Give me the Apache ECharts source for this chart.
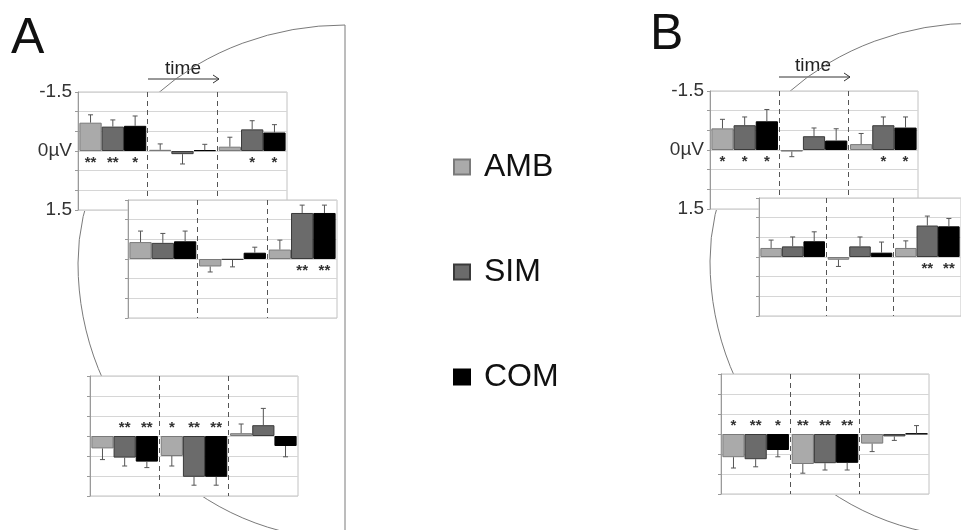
<!DOCTYPE html>
<html><head><meta charset="utf-8">
<script src="https://cdn.jsdelivr.net/npm/echarts@6/dist/echarts.min.js"></script>
<style>html,body{margin:0;padding:0;background:#fff}#c{width:961px;height:530px}</style>
</head><body><div id="c"></div>
<script>
// ---------- DATA ----------
const conditions = ['AMB', 'SIM', 'COM'];
const timeWindows = ['early', 'middle', 'late'];
const windowBounds = [1, 2];
const yLabelValues = [-1.5, 0, 1.5];
const yLabelTexts = ['-1.5', '0µV', '1.5'];

// Panel A — top (rows: AMB, SIM, COM; columns: time windows)
const aTopVals = [[-0.72, -0.03, -0.11], [-0.62, 0.08, -0.55], [-0.64, -0.02, -0.47]];
const aTopErr  = [[0.20, 0.15, 0.24], [0.17, 0.25, 0.22], [0.25, 0.15, 0.20]];
const aTopSig  = [['**', '', ''], ['**', '', '*'], ['*', '', '*']];
// Panel A — middle
const aMidVals = [[-0.43, 0.19, -0.24], [-0.41, 0.02, -1.17], [-0.45, -0.16, -1.17]];
const aMidErr  = [[0.28, 0.14, 0.24], [0.24, 0.18, 0.20], [0.26, 0.14, 0.20]];
const aMidSig  = [['', '', ''], ['', '', '**'], ['', '', '**']];
// Panel A — bottom
const aBotVals = [[0.31, 0.50, -0.07], [0.54, 1.02, -0.27], [0.64, 1.02, 0.25]];
const aBotErr  = [[0.28, 0.25, 0.23], [0.21, 0.21, 0.42], [0.15, 0.21, 0.27]];
const aBotSig  = [['', '*', ''], ['**', '**', ''], ['**', '**', '']];
// Panel B — top
const bTopVals = [[-0.55, 0.04, -0.15], [-0.63, -0.35, -0.63], [-0.73, -0.24, -0.57]];
const bTopErr  = [[0.23, 0.13, 0.27], [0.21, 0.21, 0.21], [0.30, 0.30, 0.27]];
const bTopSig  = [['*', '', ''], ['*', '', '*'], ['*', '', '*']];
// Panel B — middle
const bMidVals = [[-0.23, 0.07, -0.23], [-0.27, -0.27, -0.80], [-0.40, -0.11, -0.78]];
const bMidErr  = [[0.20, 0.17, 0.18], [0.24, 0.24, 0.24], [0.24, 0.27, 0.20]];
const bMidSig  = [['', '', ''], ['', '', '**'], ['', '', '**']];
// Panel B — bottom
const bBotVals = [[0.58, 0.75, 0.24], [0.63, 0.73, 0.06], [0.40, 0.72, -0.01]];
const bBotErr  = [[0.27, 0.23, 0.20], [0.19, 0.17, 0.10], [0.17, 0.18, 0.20]];
const bBotSig  = [['*', '**', ''], ['**', '**', ''], ['*', '**', '']];

// ---------- LAYOUT / STYLE ----------
const FONT = '"Liberation Sans", Arial, sans-serif';
const colors = ['#aaaaaa', '#6b6b6b', '#000000'];
const borders = ['#7a7a7a', '#3a3a3a', '#000000'];
const GAP = 0.04;

const charts = [
  {vals: aTopVals, errs: aTopErr, sig: aTopSig, left: 78,  top: 92,  w: 209, h: 118, labels: true},
  {vals: aMidVals, errs: aMidErr, sig: aMidSig, left: 128, top: 200, w: 209, h: 118, labels: false},
  {vals: aBotVals, errs: aBotErr, sig: aBotSig, left: 90,  top: 376, w: 208, h: 120, labels: false},
  {vals: bTopVals, errs: bTopErr, sig: bTopSig, left: 710, top: 91,  w: 208, h: 118, labels: true},
  {vals: bMidVals, errs: bMidErr, sig: bMidSig, left: 759, top: 198, w: 210, h: 118, labels: false},
  {vals: bBotVals, errs: bBotErr, sig: bBotSig, left: 721, top: 374, w: 208, h: 120, labels: false}
];

const grid = [], xAxis = [], yAxis = [], series = [];
charts.forEach((p, i) => {
  const z = 10 + i * 10;
  grid.push({left: p.left, top: p.top, width: p.w, height: p.h, show: true,
    backgroundColor: '#ffffff', borderColor: '#c2c2c2', borderWidth: 1, z: z});
  xAxis.push({type: 'category', gridIndex: i, data: timeWindows, z: z + 1,
    axisLine: {show: false}, axisTick: {show: false}, axisLabel: {show: false}, splitLine: {show: false}});
  xAxis.push({type: 'value', gridIndex: i, min: 0, max: 3, show: false, z: z + 1});
  yAxis.push({type: 'value', gridIndex: i, min: -1.5, max: 1.5, interval: 0.5, inverse: true, z: z + 1,
    axisLine: {show: true, lineStyle: {color: '#9a9a9a'}},
    axisTick: {show: true, length: 3, lineStyle: {color: '#9a9a9a'}},
    splitLine: {show: true, lineStyle: {color: '#d6d6d6'}},
    axisLabel: {show: p.labels, margin: 6, fontSize: 19, color: '#333', fontFamily: FONT,
      formatter: v => { const idx = yLabelValues.indexOf(v); return idx >= 0 ? yLabelTexts[idx] : ''; }}});
  conditions.forEach((c, k) => {
    series.push({type: 'bar', name: c, xAxisIndex: 2 * i, yAxisIndex: i, data: p.vals[k],
      barGap: '0%', barCategoryGap: (GAP * 100) + '%', z: z + 2, silent: true,
      itemStyle: {color: colors[k], borderColor: borders[k], borderWidth: 1}});
  });
  const errData = [], sigFlat = [];
  conditions.forEach((c, k) => {
    timeWindows.forEach((t, j) => {
      errData.push([j, p.vals[k][j], p.errs[k][j], k]);
      sigFlat.push(p.sig[k][j]);
    });
  });
  series.push({type: 'custom', name: 'err' + i, xAxisIndex: 2 * i, yAxisIndex: i, data: errData,
    z: z + 3, silent: true,
    renderItem: (params, api) => {
      const j = api.value(0), v = api.value(1), e = api.value(2), k = api.value(3);
      const band = api.size([1, 0])[0];
      const bw = band * (1 - GAP) / 3;
      const base = api.coord([j, 0]);
      const cx = base[0] + (k - 1) * bw;
      const dir = v < 0 ? -1 : 1;
      const y1 = api.coord([j, v])[1];
      const y2 = api.coord([j, v + dir * e])[1];
      const s = sigFlat[params.dataIndex];
      const children = [
        {type: 'line', shape: {x1: cx, y1: y1, x2: cx, y2: y2}, style: {stroke: '#555', lineWidth: 1}},
        {type: 'line', shape: {x1: cx - 2.5, y1: y2, x2: cx + 2.5, y2: y2}, style: {stroke: '#555', lineWidth: 1}}
      ];
      if (s) {
        children.push({type: 'text', style: {text: s, x: cx, y: base[1] + (v < 0 ? 12 : -8),
          align: 'center', verticalAlign: 'middle', fontSize: 15, fontWeight: 'bold', fill: '#333', fontFamily: FONT}});
      }
      return {type: 'group', children: children};
    }});
  // time-window dividers (dashed)
  series.push({type: 'line', name: 'div' + i, xAxisIndex: 2 * i + 1, yAxisIndex: i, data: [[0, 0]],
    symbol: 'none', lineStyle: {width: 0, opacity: 0}, z: z + 2, silent: true,
    markLine: {symbol: 'none', silent: true, label: {show: false}, animation: false, z: z + 2,
      lineStyle: {color: '#555', type: [5, 4], width: 1},
      data: windowBounds.map(b => ({xAxis: b}))}});
});

// head outlines (decorative), drawn behind the charts
const headPaths = [
  'M345,25 A267,238 0 0 0 78,263 A267,276 0 0 0 345,539 L345,25',
  'M977,23 A267,238 0 0 0 710,261 A267,276 0 0 0 977,537'
];
series.push({type: 'custom', name: 'head', coordinateSystem: 'none', data: [0, 1], z: 1, silent: true,
  renderItem: (params) => ({type: 'path', shape: {pathData: headPaths[params.dataIndex]},
    style: {fill: 'none', stroke: '#7a7a7a', lineWidth: 1}})});

const graphic = [
  {type: 'text', z: 1, style: {text: 'A', x: 11, y: 39, verticalAlign: 'middle', fontSize: 50, fill: '#111', fontFamily: FONT}},
  {type: 'text', z: 1, style: {text: 'B', x: 650, y: 35, verticalAlign: 'middle', fontSize: 50, fill: '#111', fontFamily: FONT}},
  {type: 'text', z: 1, style: {text: 'time', x: 183, y: 69, align: 'center', verticalAlign: 'middle', fontSize: 19, fill: '#222', fontFamily: FONT}},
  {type: 'text', z: 1, style: {text: 'time', x: 813, y: 66, align: 'center', verticalAlign: 'middle', fontSize: 19, fill: '#222', fontFamily: FONT}},
  {type: 'polyline', z: 1, shape: {points: [[148, 79], [219, 79]]}, style: {stroke: '#333', lineWidth: 1}},
  {type: 'polyline', z: 1, shape: {points: [[213, 75], [219, 79], [213, 83]]}, style: {stroke: '#333', lineWidth: 1, fill: null}},
  {type: 'polyline', z: 1, shape: {points: [[779, 77], [850, 77]]}, style: {stroke: '#333', lineWidth: 1}},
  {type: 'polyline', z: 1, shape: {points: [[844, 73], [850, 77], [844, 81]]}, style: {stroke: '#333', lineWidth: 1, fill: null}}
];

const chart = echarts.init(document.getElementById('c'), null, {renderer: 'canvas'});
chart.setOption({
  animation: false,
  backgroundColor: '#ffffff',
  legend: {data: conditions, orient: 'vertical', left: 453, top: 151, padding: 0, itemWidth: 16, itemHeight: 15,
    itemGap: 73, icon: 'rect', selectedMode: false,
    textStyle: {fontSize: 32, lineHeight: 32, color: '#111', fontFamily: FONT, padding: [0, 0, 0, 9]}},
  grid: grid, xAxis: xAxis, yAxis: yAxis, series: series, graphic: graphic
});
</script></body></html>
